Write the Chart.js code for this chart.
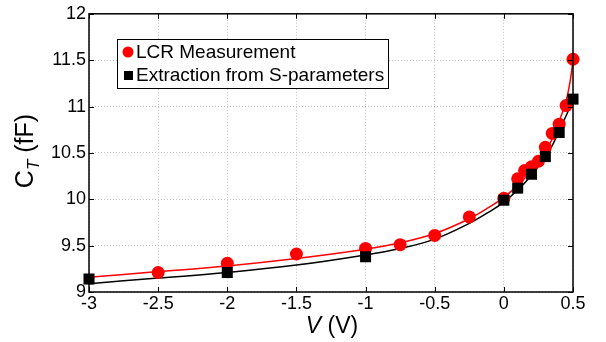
<!DOCTYPE html>
<html>
<head>
<meta charset="utf-8">
<script src="https://cdn.jsdelivr.net/npm/chart.js@4/dist/chart.umd.min.js"></script>
<style>
  html, body { margin: 0; padding: 0; background: #fff; }
  #wrap { width: 606px; height: 342px; }
</style>
</head>
<body>
<div id="wrap"><canvas id="grafico"></canvas></div>
<script>
// measured points
const lcrV = [-2.5, -2, -1.5, -1, -0.75, -0.5, -0.25, 0, 0.1, 0.15, 0.2, 0.25, 0.3, 0.35, 0.4, 0.45, 0.5];
const lcrC = [9.21, 9.31, 9.41, 9.47, 9.51, 9.61, 9.81, 10.01, 10.22, 10.31, 10.35, 10.41, 10.56, 10.71, 10.81, 11.01, 11.51];

const extV = [-3, -2, -1, 0, 0.1, 0.2, 0.3, 0.4, 0.5];
const extC = [9.14, 9.21, 9.38, 9.99, 10.12, 10.27, 10.46, 10.72, 11.08];

// fitted curves
const fitV = [-3, -2.5, -2, -1.5, -1, -0.75, -0.5, -0.25, -0.1, 0, 0.1, 0.2, 0.3, 0.35, 0.4, 0.45, 0.48, 0.5];
const fitLcr = [9.16, 9.22, 9.28, 9.36, 9.46, 9.53, 9.63, 9.79, 9.92, 10.02, 10.15, 10.31, 10.52, 10.65, 10.84, 11.06, 11.28, 11.5];
const fitExt = [9.09, 9.15, 9.21, 9.29, 9.4, 9.47, 9.57, 9.74, 9.87, 9.97, 10.1, 10.26, 10.46, 10.58, 10.74, 10.9, 11.0, 11.08];

const xMin = -3, xMax = 0.5, xStep = 0.5;
const yMin = 9, yMax = 12, yStep = 0.5;

const pts = (xs, ys) => xs.map((x, i) => ({x: x, y: ys[i]}));
const FONT = 'Arial, "Liberation Sans", sans-serif';
const fmt = v => String(Number(v.toFixed(1)));

const frame = {
  id: 'frame',
  afterDraw(chart) {
    const ctx = chart.ctx;
    const a = chart.chartArea;
    const sx = chart.scales.x, sy = chart.scales.y;
    ctx.save();
    ctx.strokeStyle = '#000';
    ctx.lineWidth = 1.5;
    ctx.strokeRect(a.left, a.top, a.right - a.left, a.bottom - a.top);
    ctx.lineWidth = 1;
    ctx.beginPath();
    sx.ticks.forEach(t => {
      const x = Math.round(sx.getPixelForValue(t.value)) + 0.5;
      ctx.moveTo(x, a.bottom); ctx.lineTo(x, a.bottom - 5);
      ctx.moveTo(x, a.top); ctx.lineTo(x, a.top + 5);
    });
    sy.ticks.forEach(t => {
      const y = Math.round(sy.getPixelForValue(t.value)) + 0.5;
      ctx.moveTo(a.left, y); ctx.lineTo(a.left + 5, y);
      ctx.moveTo(a.right, y); ctx.lineTo(a.right - 5, y);
    });
    ctx.stroke();

    // legend box
    const lx = 117, ly = 39, lw = 271, lh = 49;
    ctx.fillStyle = '#fff';
    ctx.fillRect(lx, ly, lw, lh);
    ctx.strokeStyle = '#000';
    ctx.lineWidth = 1;
    ctx.strokeRect(lx + 0.5, ly + 0.5, lw, lh);
    ctx.font = '19px ' + FONT;
    ctx.textBaseline = 'middle';
    ctx.textAlign = 'left';
    const d = chart.data.datasets;
    ctx.fillStyle = d[0].backgroundColor;
    ctx.beginPath(); ctx.arc(128, 52, 5.5, 0, Math.PI * 2); ctx.fill();
    ctx.fillStyle = '#000';
    ctx.fillText(d[0].label, 136, 53);
    ctx.fillStyle = d[1].backgroundColor;
    ctx.fillRect(124, 71, 9, 9);
    ctx.fillStyle = '#000';
    ctx.fillText(d[1].label, 136, 76);

    // axis titles
    ctx.textBaseline = 'alphabetic';
    const xl = 'V', xr = ' (V)';
    ctx.font = 'italic 23px ' + FONT;
    const w1 = ctx.measureText(xl).width;
    ctx.font = '23px ' + FONT;
    const w2 = ctx.measureText(xr).width;
    const cx = 332 - (w1 + w2) / 2;
    ctx.font = 'italic 23px ' + FONT;
    ctx.fillText(xl, cx, 333);
    ctx.font = '23px ' + FONT;
    ctx.fillText(xr, cx + w1, 333);

    ctx.translate(33, 151);
    ctx.rotate(-Math.PI / 2);
    ctx.font = '25px ' + FONT;
    const c1 = ctx.measureText('C').width;
    ctx.font = 'italic 17px ' + FONT;
    const c2 = ctx.measureText('T').width;
    ctx.font = '25px ' + FONT;
    const c3 = ctx.measureText(' (fF)').width;
    let px = -(c1 + c2 + c3) / 2;
    ctx.font = '25px ' + FONT;
    ctx.fillText('C', px, 0); px += c1;
    ctx.font = 'italic 17px ' + FONT;
    ctx.fillText('T', px, 6); px += c2;
    ctx.font = '25px ' + FONT;
    ctx.fillText(' (fF)', px, 0);
    ctx.restore();
  }
};

new Chart(document.getElementById('grafico'), {
  type: 'scatter',
  data: {
    datasets: [
      {
        label: 'LCR Measurement',
        data: pts(lcrV, lcrC),
        backgroundColor: '#ff0000',
        borderColor: '#ff0000',
        pointStyle: 'circle',
        pointRadius: 6.5,
        pointBorderWidth: 0,
        clip: false,
        order: 2
      },
      {
        label: 'Extraction from S-parameters',
        data: pts(extV, extC),
        backgroundColor: '#000000',
        borderColor: '#000000',
        pointStyle: 'rect',
        pointRadius: 7.8,
        pointBorderWidth: 0,
        clip: false,
        order: 1
      },
      {
        label: 'fit LCR',
        data: pts(fitV, fitLcr),
        showLine: true,
        borderColor: '#ff0000',
        borderWidth: 1.5,
        pointRadius: 0,
        tension: 0.4,
        order: 4
      },
      {
        label: 'fit S',
        data: pts(fitV, fitExt),
        showLine: true,
        borderColor: '#000000',
        borderWidth: 1.5,
        pointRadius: 0,
        tension: 0.4,
        order: 3
      }
    ]
  },
  options: {
    responsive: true,
    maintainAspectRatio: false,
    animation: false,
    layout: { padding: { left: 0, top: 11, right: 33, bottom: 0 } },
    plugins: {
      legend: { display: false },
      tooltip: { enabled: false }
    },
    scales: {
      x: {
        type: 'linear',
        min: xMin, max: xMax,
        afterFit: s => { s.height = 50; },
        ticks: { stepSize: xStep, color: '#000', padding: 1, font: { size: 18, family: FONT }, callback: fmt },
        grid: { color: '#c0c0c0', drawTicks: false, lineWidth: 1 },
        border: { display: false, dash: [1, 2] }
      },
      y: {
        min: yMin, max: yMax,
        afterFit: s => { s.width = 89; },
        ticks: { stepSize: yStep, color: '#000', padding: 3, font: { size: 18, family: FONT }, callback: fmt },
        grid: { color: '#c0c0c0', drawTicks: false, lineWidth: 1 },
        border: { display: false, dash: [1, 2] }
      }
    }
  },
  plugins: [frame]
});
</script>
</body>
</html>
